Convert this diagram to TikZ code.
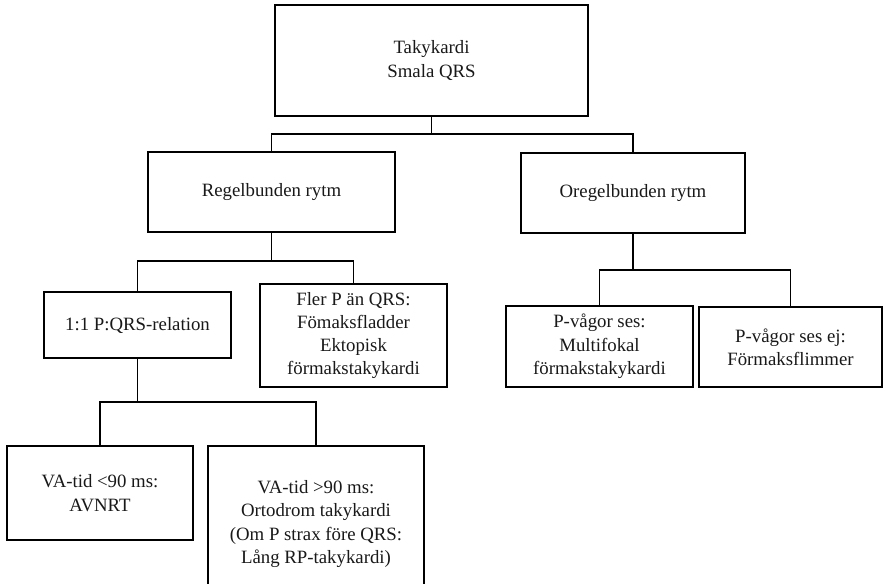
\documentclass[tikz,border=0pt]{standalone}
\usepackage{fontspec}
\setmainfont{Liberation Serif}
\begin{document}
\begin{tikzpicture}[x=1pt,y=-1pt,
  box/.style={draw=black,line width=2.8pt,align=center,inner sep=2pt,
    font=\fontsize{18.8}{23.3}\selectfont,text=black!90},
  link/.style={draw=black,line width=1.1pt}]
\useasboundingbox (0,0) rectangle (887,584);
\clip (0,0) rectangle (887,584);
\fill[white] (0,0) rectangle (887,584);

% decision boxes
\node[box,minimum width=313pt,minimum height=111pt] (top) at (431.5,60.5) {Takykardi\\Smala QRS};
\node[box,minimum width=247pt,minimum height=80pt] (regel) at (271.5,192) {Regelbunden rytm};
\node[box,minimum width=224pt,minimum height=80pt] (oregel) at (633,193) {Oregelbunden rytm};
\node[box,minimum width=187pt,minimum height=66pt] (rel) at (137.5,325) {1:1 P:QRS-relation};
\node[box,minimum width=187pt,minimum height=103pt] (fler) at (353.5,335.5) {Fler P än QRS:\\Fömaksfladder\\Ektopisk\\förmakstakykardi};
\node[box,minimum width=186pt,minimum height=94pt] (vaA) at (100,493) {VA-tid <90 ms:\\AVNRT};
\node[box,minimum width=216pt,minimum height=156pt] (vaB) at (316,524) {VA-tid >90 ms:\\Ortodrom takykardi\\(Om P strax före QRS:\\Lång RP-takykardi)};
\node[box,minimum width=187pt,minimum height=81pt] (pses) at (599.5,346.5) {P-vågor ses:\\Multifokal\\förmakstakykardi};
\node[box,minimum width=183pt,minimum height=80pt] (pej) at (790.5,347) {P-vågor ses ej:\\Förmaksflimmer};

% branch points
\coordinate (j0) at (431.5,134);
\coordinate (j1) at (271.5,261);
\coordinate (j2) at (137.5,402);
\coordinate (j3) at (633,270);

% connectors
\draw[link] (top.south) -- (j0);
\draw[link] (j0) -| (regel.north);
\draw[link] (j0) -| (oregel.north);
\draw[link] (regel.south) -- (j1);
\draw[link] (j1) -| (rel.north);
\draw[link] (j1) -| (fler.north);
\draw[link] (rel.south) -- (j2);
\draw[link] (j2) -| (vaA.north);
\draw[link] (j2) -| (vaB.north);
\draw[link] (oregel.south) -- (j3);
\draw[link] (j3) -| (pses.north);
\draw[link] (j3) -| (pej.north);
\end{tikzpicture}
\end{document}
